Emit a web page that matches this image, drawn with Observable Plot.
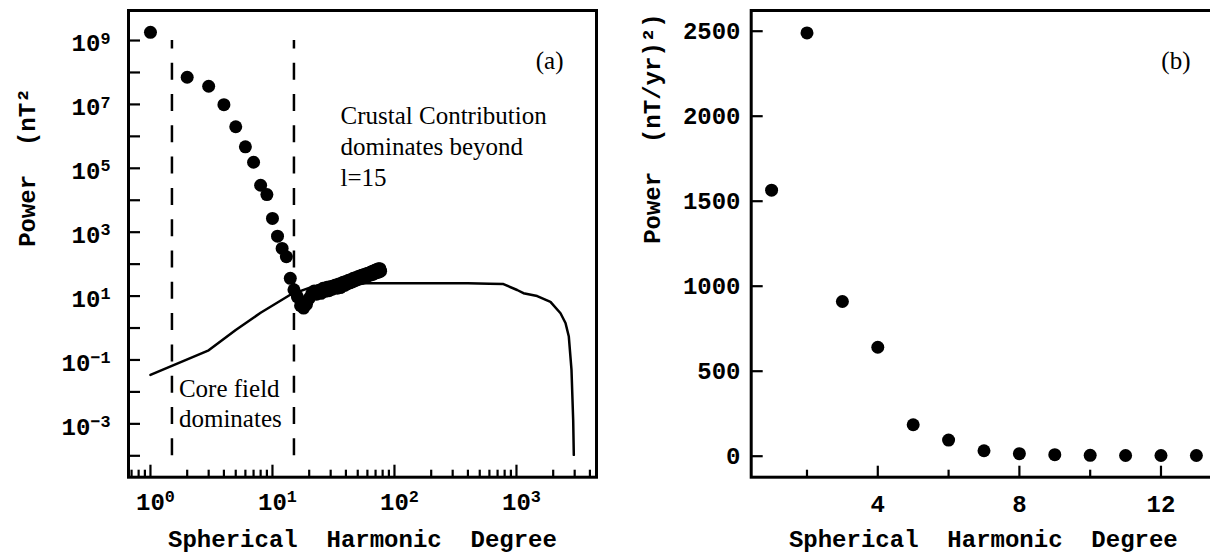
<!DOCTYPE html>
<html><head><meta charset="utf-8">
<script src="https://cdn.jsdelivr.net/npm/d3@7"></script>
<script src="https://cdn.jsdelivr.net/npm/@observablehq/plot@0.6"></script>
<style>
html,body{margin:0;padding:0;background:#fff;overflow:hidden;}
#wrap{position:relative;width:1210px;height:552px;overflow:hidden;background:#fff;}
#left{position:absolute;left:0;top:0;width:620px;height:552px;}
#right{position:absolute;left:620px;top:0;width:600px;height:552px;}
</style></head><body><div id="wrap"><div id="left"></div><div id="right"></div></div>
<script>
// ---------- Panel (a): power spectrum (log-log) ----------
const obsDegree = [1,2,3,4,5,6,7,8,9,10,11,12,13,14,15,16,17,18,19,20,
  21,22,23,24,25,26,27,28,29,30,31,32,33,34,35,36,37,38,39,40,
  41,42,43,44,45,46,47,48,49,50,51,52,53,54,55,56,57,58,59,60,
  61,62,63,64,65,66,67,68,69,70,71,72,73,74,75,76,77];
const obsPower = [1.8e9,7.1e7,3.7e7,9.8e6,2.0e6,4.7e5,1.55e5,2.95e4,1.5e4,2.7e3,750,310,170,36,15.8,9.5,5.0,4.2,5.5,8.5,
  12,14.5,11.5,15.1,12.2,17.6,14.1,18.8,14.8,20.0,16.4,21.0,22.4,17.6,23.9,18.5,25.0,27.3,21.4,28.5,
  24.1,31.2,26.0,32.6,27.8,35.9,29.9,37.5,32.1,40.0,33.7,42.8,35.3,44.7,36.5,46.7,39.5,48.7,41.5,50.9,
  43.5,53.1,45.5,56.5,47.0,59.0,49.0,62.5,52.0,65.3,54.0,68.1,55.5,71.1,58.3,72.0,60.0];
const modelDegree = [1,3,5,8,14,20,30,50,100,200,400,600,782,1013,1141,1479,1900,2296,2523,2686,2825,2917,2951];
const modelPower = [0.034,0.20,0.87,3.0,11,18,23,25,25.1,25.1,25.1,24.5,23.7,15.5,12.3,10.0,6.6,2.9,1.44,0.54,0.049,0.0013,0.000107];
const boundaryDegree = [1.5, 15];
const boundarySpan = [1e-4, 1e9];
const xMajorTicks = [1, 10, 100, 1000];
const xMinorTicks = [0.7,0.8,0.9,2,3,4,5,6,7,8,9,20,30,40,50,60,70,80,90,200,300,400,500,600,700,800,900,2000,3000,4000];
const yMajorTicks = [1e-3, 1e-1, 1e1, 1e3, 1e5, 1e7, 1e9];
const yMinorTicks = [1e-4, 1e-2, 1, 1e2, 1e4, 1e6, 1e8];

// ---------- Panel (b): secular variation power ----------
const svDegree = [1,2,3,4,5,6,7,8,9,10,11,12,13];
const svPower = [1565,2490,910,641,185,95,32,15,9,5,4,4,4];
const svYTicks = [0,500,1000,1500,2000,2500];
const svXMajor = [4,8,12];
const svXMinor = [2,6,10];

const MONO = "'Liberation Mono','DejaVu Sans Mono',monospace";
const SERIF = "'Liberation Serif','DejaVu Serif',serif";
const baseStyle = {fontFamily: MONO, fontSize: "24px", fontWeight: "bold", color: "black", background: "white", overflow: "visible", maxWidth: "none"};

const obs = obsDegree.map((l, i) => ({l, p: obsPower[i]}));
const model = modelDegree.map((l, i) => ({l, p: modelPower[i]}));
const sv = svDegree.map((l, i) => ({l, p: svPower[i]}));

const expFmt = d => String(Math.round(Math.log10(d))).replace("-", "\u2212");

// layout of the two panels
const L = {width: 620, height: 552, marginLeft: 128, marginRight: 24, marginTop: 10, marginBottom: 75.3};
const R = {width: 600, height: 552, marginLeft: 130.7, marginRight: 5, marginTop: 10, marginBottom: 75.3};
const innerW = c => c.width - c.marginLeft - c.marginRight;
const innerH = c => c.height - c.marginTop - c.marginBottom;
// inward tick helpers
const yTicksIn = (c, ticks, len) => Plot.tickY(ticks, {insetRight: innerW(c) - len, strokeWidth: 2.2});
const xTicksIn = (c, ticks, len) => Plot.tickX(ticks, {insetTop: innerH(c) - len, strokeWidth: 2.2});

const left = Plot.plot({
  ...L,
  x: {type: "log", domain: [Math.pow(10, -0.18), Math.pow(10, 3.656)]},
  y: {type: "log", domain: [Math.pow(10, -4.67), Math.pow(10, 9.94)]},
  style: baseStyle,
  marks: [
    Plot.ruleX(boundaryDegree, {y1: boundarySpan[0], y2: boundarySpan[1], strokeWidth: 2.5, strokeDasharray: "17,14.3"}),
    Plot.line(model, {x: "l", y: "p", strokeWidth: 2.5}),
    Plot.dot(obs, {x: "l", y: "p", r: 6.5, fill: "black", stroke: "none"}),
    xTicksIn(L, xMajorTicks, 12),
    xTicksIn(L, xMinorTicks, 7),
    yTicksIn(L, yMajorTicks, 12),
    yTicksIn(L, yMinorTicks, 12),
    Plot.axisX({ticks: xMajorTicks, tickSize: 0, tickPadding: 15.3, dx: 5, tickFormat: expFmt, label: null}),
    Plot.axisY({ticks: yMajorTicks, tickSize: 0, tickPadding: 18, dy: 3, tickFormat: expFmt, label: null}),
    Plot.frame({strokeWidth: 3}),
    Plot.text(["(a)"], {frameAnchor: "top-right", textAnchor: "end", lineAnchor: "top", dx: -33, dy: 41, fontFamily: SERIF, fontSize: 25, fontWeight: "normal"}),
    Plot.text(["Crustal Contribution\ndominates beyond\nl=15"], {frameAnchor: "top-left", textAnchor: "start", lineAnchor: "top", lineHeight: 1.25, dx: 212, dy: 91, fontFamily: SERIF, fontSize: 25, fontWeight: "normal"}),
    Plot.text(["Core field\ndominates"], {x: [boundaryDegree[0]], frameAnchor: "top", textAnchor: "start", lineAnchor: "top", lineHeight: 1.2, dx: 7, dy: 365, fontFamily: SERIF, fontSize: 25, fontWeight: "normal"}),
    Plot.text(["Spherical\u00a0 Harmonic\u00a0 Degree"], {frameAnchor: "bottom", lineAnchor: "bottom", dy: 69.3}),
    Plot.text(["Power\u00a0 (nT\u00b2"], {frameAnchor: "left", rotate: -90, lineAnchor: "middle", dx: -101, dy: 3})
  ]
});

const right = Plot.plot({
  ...R,
  x: {domain: [0.424, 13.54]},
  y: {domain: [-123.5, 2621.8]},
  style: baseStyle,
  marks: [
    Plot.dot(sv, {x: "l", y: "p", r: 6.5, fill: "black", stroke: "none"}),
    yTicksIn(R, svYTicks, 12),
    xTicksIn(R, svXMajor, 11),
    xTicksIn(R, svXMinor, 7),
    Plot.axisY({ticks: svYTicks, tickSize: 0, tickPadding: 10.7, tickFormat: d => String(d), label: null}),
    Plot.axisX({ticks: svXMajor, tickSize: 0, tickPadding: 17.3, tickFormat: d => String(d), label: null}),
    Plot.frame({strokeWidth: 3}),
    Plot.text(["(b)"], {frameAnchor: "top-right", textAnchor: "end", lineAnchor: "top", dx: -25, dy: 41, fontFamily: SERIF, fontSize: 25, fontWeight: "normal"}),
    Plot.text(["Spherical\u00a0 Harmonic\u00a0 Degree"], {frameAnchor: "bottom", lineAnchor: "bottom", dy: 69.3}),
    Plot.text(["Power\u00a0 (nT/yr)\u00b2)"], {frameAnchor: "left", rotate: -90, lineAnchor: "middle", dx: -98.7})
  ]
});

// superscript exponents on the log-axis tick labels
const NS = "http://www.w3.org/2000/svg";
function supLabels(svg, sel, dyEm) {
  svg.querySelectorAll(sel).forEach(t => {
    const e = t.textContent;
    t.textContent = "";
    const b = document.createElementNS(NS, "tspan");
    b.textContent = "10";
    const s = document.createElementNS(NS, "tspan");
    s.textContent = e;
    s.setAttribute("font-size", "0.7em");
    s.setAttribute("dy", dyEm);
    t.append(b, s);
  });
}
supLabels(left, 'g[aria-label="x-axis tick label"] text', "-0.42em");
supLabels(left, 'g[aria-label="y-axis tick label"] text', "-0.45em");

document.getElementById("left").append(left);
document.getElementById("right").append(right);
</script></body></html>
